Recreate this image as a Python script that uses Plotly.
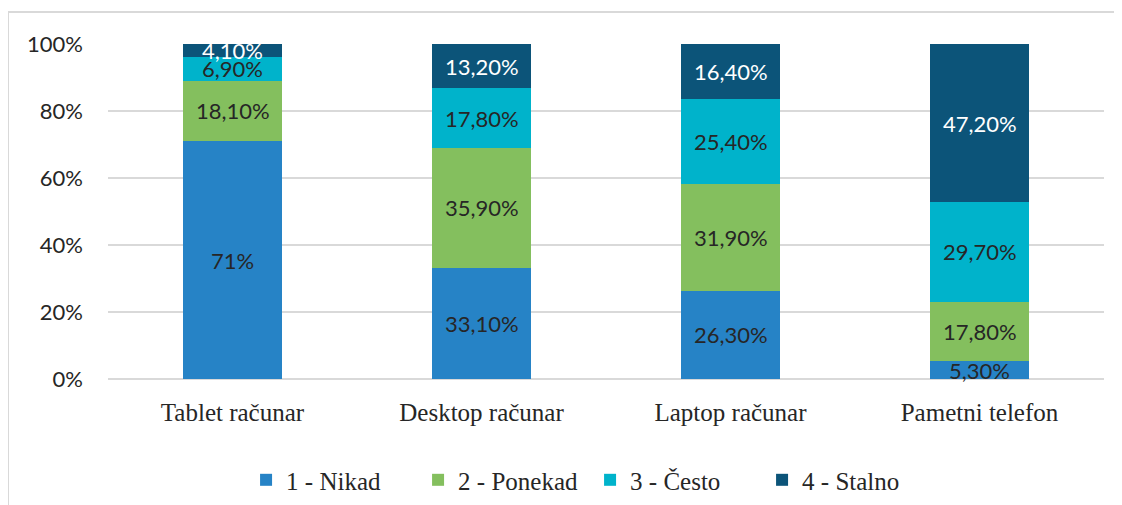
import plotly.graph_objects as go
import numpy as np

categories = ["Tablet računar", "Desktop računar", "Laptop računar", "Pametni telefon"]
series_names = ["1 - Nikad", "2 - Ponekad", "3 - Često", "4 - Stalno"]
nikad = [71.0, 33.1, 26.3, 5.3]
ponekad = [18.1, 35.9, 31.9, 17.8]
cesto = [6.9, 17.8, 25.4, 29.7]
stalno = [4.1, 13.2, 16.4, 47.2]
nikad_labels = ["71%", "33,10%", "26,30%", "5,30%"]
ponekad_labels = ["18,10%", "35,90%", "31,90%", "17,80%"]
cesto_labels = ["6,90%", "17,80%", "25,40%", "29,70%"]
stalno_labels = ["4,10%", "13,20%", "16,40%", "47,20%"]
y_ticks = [0, 20, 40, 60, 80, 100]
y_tick_text = ["0%", "20%", "40%", "60%", "80%", "100%"]

colors = ["#2683C6", "#84BF5E", "#00B3CB", "#0C5479"]
text_colors = ["#262626", "#262626", "#262626", "#FFFFFF"]
series = [nikad, ponekad, cesto, stalno]
labels = [nikad_labels, ponekad_labels, cesto_labels, stalno_labels]

fig = go.Figure()
for name, vals, col in zip(series_names, series, colors):
    fig.add_trace(go.Bar(x=categories, y=vals, name=name, marker_color=col,
                         marker_line_width=0, width=0.4))

base = np.zeros(len(categories))
annotations = []
for vals, labs, tc in zip(series, labels, text_colors):
    v = np.array(vals)
    mids = base + v / 2
    for c, m, t in zip(categories, mids, labs):
        annotations.append(dict(x=c, y=m, xref="x", yref="y", text=t, showarrow=False,
                                font=dict(family="Lato, sans-serif", size=22, color=tc)))
    base = base + v

fig.update_layout(
    barmode="stack",
    width=1114, height=497,
    margin=dict(l=100, r=18, t=36, b=126, autoexpand=False),
    paper_bgcolor="white", plot_bgcolor="white",
    annotations=annotations,
    legend=dict(orientation="h", x=0.484, xanchor="center", y=-0.233, yanchor="top",
                font=dict(family="Liberation Serif, serif", size=25, color="#262626"),
                itemwidth=30, tracegroupgap=0, traceorder="normal",
                entrywidth=127, entrywidthmode="pixels"),
    xaxis=dict(showgrid=False, showline=False, ticks="", automargin=False,
               tickfont=dict(family="Liberation Serif, serif", size=25, color="#262626"),
               ticklabelstandoff=16),
    yaxis=dict(range=[0, 100], tickvals=y_ticks, ticktext=y_tick_text, showgrid=True,
               gridcolor="#D9D9D9", gridwidth=1.5, zeroline=True, zerolinecolor="#D9D9D9",
               zerolinewidth=1.5, showline=False, automargin=False,
               tickfont=dict(family="Lato, sans-serif", size=22, color="#262626"),
               ticklabelstandoff=24),
    shapes=[
        dict(type="line", xref="paper", yref="paper", x0=-0.1004, x1=1.02, y0=1.0955, y1=1.0955,
             line=dict(color="#D9D9D9", width=2)),
        dict(type="line", xref="paper", yref="paper", x0=-0.1004, x1=-0.1004, y0=1.0955, y1=-0.38,
             line=dict(color="#D9D9D9", width=2)),
    ],
)

fig.write_html("out.html")
